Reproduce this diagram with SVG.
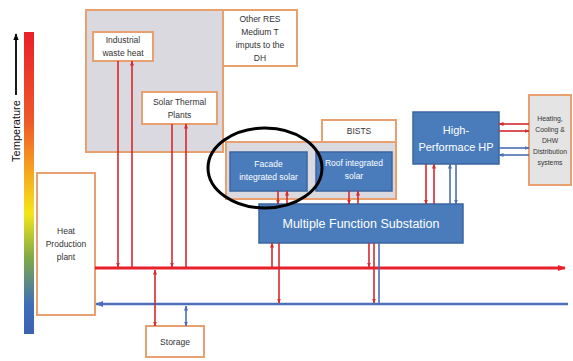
<svg xmlns="http://www.w3.org/2000/svg" width="573" height="361" viewBox="0 0 573 361">
<defs>
<linearGradient id="temp" x1="0" y1="0" x2="0" y2="1">
<stop offset="0" stop-color="#e8202a"/>
<stop offset="0.3" stop-color="#ee5a2a"/>
<stop offset="0.45" stop-color="#f5a020"/>
<stop offset="0.6" stop-color="#f4e61a"/>
<stop offset="0.75" stop-color="#7fa84a"/>
<stop offset="0.9" stop-color="#3f6fb8"/>
<stop offset="1" stop-color="#3c62b0"/>
</linearGradient>
<marker id="ar" viewBox="0 0 10 10" refX="9" refY="5" markerWidth="5" markerHeight="5" orient="auto-start-reverse" markerUnits="userSpaceOnUse"><path d="M0,1 L10,5 L0,9 z" fill="#d42a30"/></marker>
<marker id="ab" viewBox="0 0 10 10" refX="9" refY="5" markerWidth="5" markerHeight="5" orient="auto-start-reverse" markerUnits="userSpaceOnUse"><path d="M0,1 L10,5 L0,9 z" fill="#4a6fb5"/></marker>
<marker id="arL" viewBox="0 0 10 10" refX="9" refY="5" markerWidth="8" markerHeight="8" orient="auto" markerUnits="userSpaceOnUse"><path d="M0,1 L10,5 L0,9 z" fill="#e8202a"/></marker>
<marker id="abL" viewBox="0 0 10 10" refX="9" refY="5" markerWidth="8" markerHeight="8" orient="auto" markerUnits="userSpaceOnUse"><path d="M0,1 L10,5 L0,9 z" fill="#4a70b8"/></marker>
<marker id="ak" viewBox="0 0 10 10" refX="9" refY="5" markerWidth="7" markerHeight="7" orient="auto" markerUnits="userSpaceOnUse"><path d="M0,1 L10,5 L0,9 z" fill="#000"/></marker>
</defs>
<style>
.t{font-family:"Liberation Sans",Arial,sans-serif;fill:#333;text-anchor:middle}
.w{font-family:"Liberation Sans",Arial,sans-serif;fill:#fff;text-anchor:middle}
.ob{fill:#fff;stroke:#e8a070;stroke-width:2}
.og{fill:#d9d9df;stroke:#e8a070;stroke-width:2}
.bb{fill:#4a7cbc;stroke:#3a66a0;stroke-width:1.5}
.r{stroke:#d42a30;stroke-width:1.6;fill:none}
.b{stroke:#4a6fb5;stroke-width:1.6;fill:none}
.rm{stroke:#e8202a;stroke-width:3;fill:none}
.bm{stroke:#4a70b8;stroke-width:2.5;fill:none}
</style>
<rect width="573" height="361" fill="#fff"/>
<g id="temperature">
<rect x="24" y="32" width="10" height="302" fill="url(#temp)"/>
<line x1="16" y1="95" x2="16" y2="34" stroke="#000" stroke-width="1.8" marker-end="url(#ak)"/>
<text class="t" x="0" y="0" font-size="11" transform="translate(20,131) rotate(-90)" style="fill:#111">Temperature</text>
</g>
<g id="res-group"><rect class="og" x="86" y="10" width="137" height="142"/></g>
<g id="other-res"><rect class="ob" x="223" y="10" width="74" height="56"/>
<text class="t" font-size="8.5"><tspan x="260" y="22">Other RES</tspan><tspan x="260" y="35">Medium T</tspan><tspan x="260" y="48">imputs to the</tspan><tspan x="260" y="61">DH</tspan></text></g>
<g id="industrial"><rect class="ob" x="93" y="32" width="60" height="29"/>
<text class="t" font-size="8.5"><tspan x="123" y="43">Industrial</tspan><tspan x="123" y="56">waste heat</tspan></text></g>
<g id="solar-thermal"><rect class="ob" x="142" y="92" width="75" height="32"/>
<text class="t" font-size="8.5"><tspan x="179.5" y="105">Solar  Thermal</tspan><tspan x="179.5" y="118">Plants</tspan></text></g>
<g id="heat-plant"><rect class="ob" x="37" y="173" width="58" height="142"/>
<text class="t" font-size="8.5"><tspan x="66" y="234">Heat</tspan><tspan x="66" y="247">Production</tspan><tspan x="66" y="260">plant</tspan></text></g>
<g id="storage"><rect class="ob" x="146" y="326" width="58" height="31"/>
<text class="t" font-size="8.5" x="175" y="345">Storage</text></g>
<g id="bists"><rect class="ob" x="322" y="120" width="74" height="22"/>
<text class="t" font-size="8.5" x="359" y="134">BISTS</text>
<rect class="og" x="226" y="142" width="170" height="57"/></g>
<g id="facade"><rect class="bb" x="230" y="152" width="77" height="39"/>
<text class="w" font-size="8.5"><tspan x="268.5" y="167">Facade</tspan><tspan x="268.5" y="180">integrated solar</tspan></text></g>
<g id="roof"><rect class="bb" x="316" y="152" width="76" height="39"/>
<text class="w" font-size="8.5"><tspan x="354" y="166">Roof integrated</tspan><tspan x="354" y="179">solar</tspan></text></g>
<g id="mfs"><rect class="bb" x="259" y="204" width="204" height="39"/>
<text class="w" font-size="12.5" x="361" y="228">Multiple Function Substation</text></g>
<g id="hp"><rect class="bb" x="413" y="112" width="86" height="52"/>
<text class="w" font-size="11"><tspan x="456" y="134">High-</tspan><tspan x="456" y="151">Performace HP</tspan></text></g>
<g id="distribution"><rect class="og" x="529" y="95" width="42" height="90" style="fill:#e4e4e4"/>
<text class="t" font-size="6.8"><tspan x="550" y="121">Heating,</tspan><tspan x="550" y="132">Cooling &amp;</tspan><tspan x="550" y="143">DHW</tspan><tspan x="550" y="154">Distribution</tspan><tspan x="550" y="165">systems</tspan></text></g>
<g id="connectors">
<line class="rm" x1="95" y1="268" x2="565" y2="268" marker-end="url(#arL)"/>
<line class="bm" x1="568" y1="304" x2="96" y2="304" marker-end="url(#abL)"/>
<line class="r" x1="118" y1="61" x2="118" y2="267" marker-end="url(#ar)"/>
<line class="r" x1="132" y1="267" x2="132" y2="61" marker-end="url(#ar)"/>
<line class="r" x1="172" y1="124" x2="172" y2="267" marker-end="url(#ar)"/>
<line class="r" x1="186" y1="267" x2="186" y2="124" marker-end="url(#ar)"/>
<line class="r" x1="155" y1="270" x2="155" y2="326" marker-start="url(#ar)" marker-end="url(#ar)"/>
<line class="b" x1="186" y1="306" x2="186" y2="326" marker-start="url(#ab)" marker-end="url(#ab)"/>
<line class="r" x1="278" y1="191" x2="278" y2="204" marker-end="url(#ar)"/>
<line class="r" x1="287" y1="204" x2="287" y2="191" marker-end="url(#ar)"/>
<line class="r" x1="349" y1="191" x2="349" y2="204" marker-end="url(#ar)"/>
<line class="r" x1="358" y1="204" x2="358" y2="191" marker-end="url(#ar)"/>
<line class="r" x1="426" y1="164" x2="426" y2="204" marker-end="url(#ar)"/>
<line class="r" x1="434" y1="204" x2="434" y2="164" marker-end="url(#ar)"/>
<line class="b" x1="450" y1="204" x2="450" y2="164" marker-end="url(#ab)"/>
<line class="b" x1="456" y1="164" x2="456" y2="204" marker-end="url(#ab)"/>
<line class="r" x1="529" y1="124" x2="499" y2="124" marker-end="url(#ar)"/>
<line class="r" x1="499" y1="131" x2="529" y2="131" marker-end="url(#ar)"/>
<line class="b" x1="499" y1="148" x2="529" y2="148" marker-end="url(#ab)"/>
<line class="b" x1="529" y1="155" x2="499" y2="155" marker-end="url(#ab)"/>
<line class="r" x1="272" y1="267" x2="272" y2="243" marker-end="url(#ar)"/>
<line class="r" x1="279" y1="243" x2="279" y2="303" marker-end="url(#ar)"/>
<line class="r" x1="369" y1="243" x2="369" y2="267" marker-end="url(#ar)"/>
<line class="r" x1="374" y1="243" x2="374" y2="303" marker-end="url(#ar)"/>
<line class="b" x1="379" y1="243" x2="379" y2="304"/>
</g>
<g id="highlight"><ellipse cx="265" cy="168" rx="57" ry="40" fill="none" stroke="#000" stroke-width="3"/></g>
</svg>
